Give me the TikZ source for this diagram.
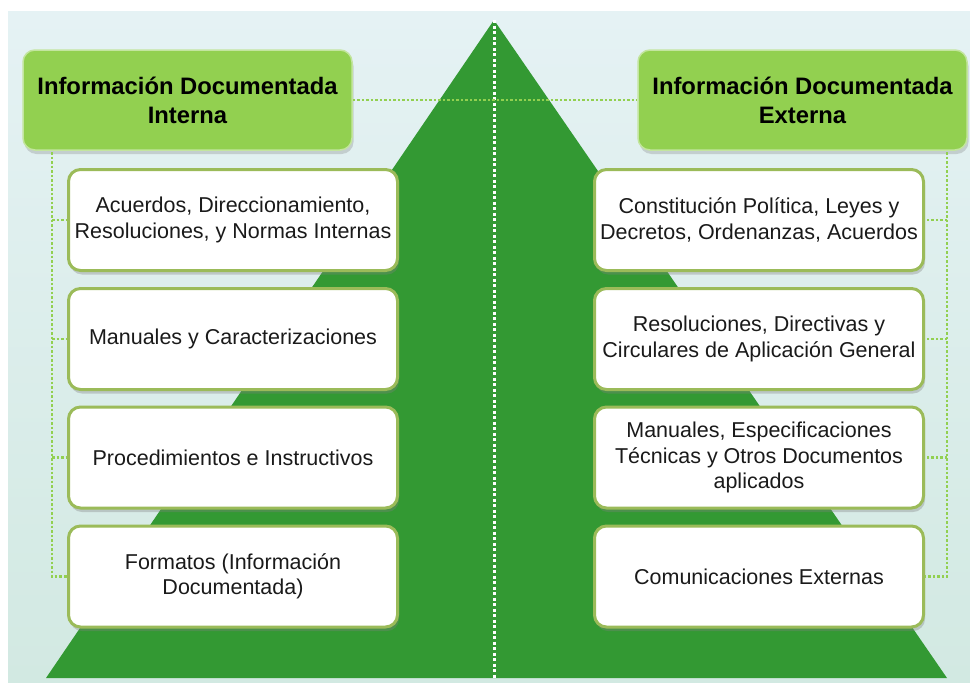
\documentclass[tikz,border=0pt]{standalone}
\usepackage{fontspec}
\setmainfont{Liberation Sans}
\usetikzlibrary{shadows}
\definecolor{fondo}{HTML}{E5F2F4}
\definecolor{fondobajo}{HTML}{D2E9E2}
\definecolor{pino}{HTML}{339933}
\definecolor{lima}{HTML}{92D050}
\definecolor{borde}{HTML}{9BBB59}
\definecolor{letra}{HTML}{1A1A1A}

\begin{document}
\begin{tikzpicture}[x=1pt,y=-1pt,
  titulo/.style={rectangle, rounded corners=12pt, fill=lima, draw=lima!55!white,
    line width=1.5pt, minimum width=329pt, minimum height=100pt, inner sep=2pt,
    align=center, font=\fontsize{23.8}{29}\selectfont\bfseries,
    drop shadow={shadow xshift=1.5pt, shadow yshift=-4pt, opacity=0.3}},
  caja/.style={rectangle, rounded corners=12pt, fill=white, draw=borde,
    line width=3pt, minimum width=329pt, minimum height=101pt, inner sep=2pt,
    align=center, text=letra, font=\fontsize{21.5}{25.5}\selectfont,
    drop shadow={shadow xshift=1.5pt, shadow yshift=-4pt, opacity=0.35}},
  enlace/.style={lima, line width=2.5pt, dash pattern=on 2.5pt off 2pt}]

  \useasboundingbox (0,0) rectangle (970,683);
  \shade[top color=fondo, bottom color=fondobajo] (8,11) rectangle (970,683);

  % piramide
  \coordinate (cima) at (494,20);
  \coordinate (base) at (494,678);
  \fill[pino] (cima) -- (947,678) -- (46,678) -- cycle;
  \draw[white, line width=3pt, dash pattern=on 3pt off 2.5pt] (cima) -- (base);

  % encabezados
  \node[titulo] (intT) at (187.5,100) {Información Documentada\\Interna};
  \node[titulo] (extT) at (802.5,100) {Información Documentada\\Externa};
  \draw[enlace] (intT) -- (extT);

  % interna
  \node[caja] (int1) at (233,220) {Acuerdos, Direccionamiento,\\Resoluciones, y Normas Internas};
  \node[caja] (int2) at (233,339) {Manuales y Caracterizaciones};
  \node[caja] (int3) at (233,457.5) {Procedimientos e Instructivos};
  \node[caja] (int4) at (233,576.5) {Formatos (Información\\Documentada)};

  % externa
  \node[caja] (ext1) at (759,220) {Constitución Política, Leyes y\\Decretos, Ordenanzas, Acuerdos};
  \node[caja] (ext2) at (759,339) {Resoluciones, Directivas y\\Circulares de Aplicación General};
  \node[caja] (ext3) at (759,457.5) {Manuales, Especificaciones\\Técnicas y Otros Documentos\\aplicados};
  \node[caja] (ext4) at (759,576.5) {Comunicaciones Externas};

  \coordinate (ramaI) at (52,152);
  \coordinate (ramaE) at (947,152);
  \draw[enlace] (ramaI) |- (int4.west);
  \draw[enlace] (ramaE) |- (ext4.east);
  \foreach \i in {1,2,3}{
    \draw[enlace] (int\i.west -| ramaI) -- (int\i.west);
    \draw[enlace] (ext\i.east -| ramaE) -- (ext\i.east);
  }
\end{tikzpicture}
\end{document}
